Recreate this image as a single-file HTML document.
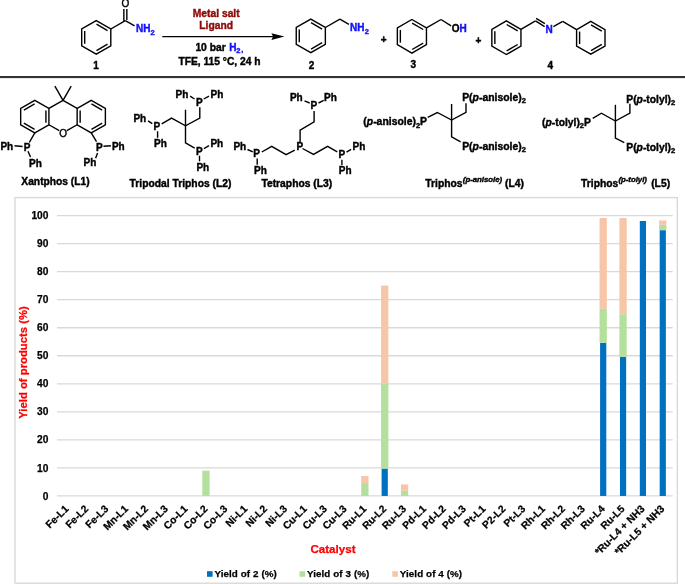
<!DOCTYPE html>
<html><head><meta charset="utf-8"><style>
html,body{margin:0;padding:0;background:#fff;}
body{width:685px;height:584px;overflow:hidden;}
svg{display:block;will-change:transform;font-family:"Liberation Sans",sans-serif;}
</style></head><body>
<svg width="685" height="584" viewBox="0 0 685 584">
<rect width="685" height="584" fill="#fff"/>
<polygon points="96.25,20.60 110.80,29.00 110.80,45.80 96.25,54.20 81.70,45.80 81.70,29.00" fill="none" stroke="#000" stroke-width="1.4" stroke-linejoin="miter"/>
<line x1="96.50" y1="24.21" x2="107.55" y2="30.59" stroke="#000" stroke-width="1.4"/>
<line x1="107.55" y1="44.21" x2="96.50" y2="50.59" stroke="#000" stroke-width="1.4"/>
<line x1="84.70" y1="43.78" x2="84.70" y2="31.02" stroke="#000" stroke-width="1.4"/>
<line x1="110.80" y1="29.00" x2="125.35" y2="20.60" stroke="#000" stroke-width="1.4"/>
<line x1="123.85" y1="21.20" x2="123.85" y2="9.00" stroke="#000" stroke-width="1.4"/>
<line x1="126.85" y1="20.00" x2="126.85" y2="9.00" stroke="#000" stroke-width="1.4"/>
<text x="125.35" y="7.40" font-size="10" text-anchor="middle" fill="#000" stroke="#000" stroke-width="0.4" font-weight="normal" >O</text>
<line x1="125.35" y1="20.60" x2="134.60" y2="25.90" stroke="#000" stroke-width="1.4"/>
<text x="136.00" y="32.00" font-size="10" text-anchor="start" fill="#1010FF" stroke="#1010FF" stroke-width="0.4" font-weight="bold" >NH</text>
<text x="150.40" y="34.80" font-size="7.5" text-anchor="start" fill="#1010FF" stroke="#1010FF" stroke-width="0.4" font-weight="bold" >2</text>
<text x="93.30" y="69.20" font-size="10" text-anchor="start" fill="#000" stroke="#000" stroke-width="0.4" font-weight="bold" >1</text>
<line x1="162.30" y1="36.60" x2="273.00" y2="36.60" stroke="#000" stroke-width="1.4"/>
<path d="M271.4,33.2 L284.4,36.6 L271.4,40 L273.1,36.6 Z" fill="#000"/>
<text x="216.20" y="17.10" font-size="10.3" text-anchor="middle" fill="#8E0B0B" stroke="#8E0B0B" stroke-width="0.4" font-weight="bold" >Metal salt</text>
<text x="216.20" y="29.40" font-size="10.3" text-anchor="middle" fill="#8E0B0B" stroke="#8E0B0B" stroke-width="0.4" font-weight="bold" >Ligand</text>
<text x="195.40" y="50.80" font-size="10.3" text-anchor="start" fill="#000" stroke="#000" stroke-width="0.4" font-weight="bold" >10 bar </text>
<text x="229.20" y="50.80" font-size="10" text-anchor="start" fill="#1010FF" stroke="#1010FF" stroke-width="0.4" font-weight="bold" >H</text>
<text x="236.30" y="53.20" font-size="7.5" text-anchor="start" fill="#1010FF" stroke="#1010FF" stroke-width="0.4" font-weight="bold" >2</text>
<text x="241.20" y="51.50" font-size="7.5" text-anchor="start" fill="#1010FF" stroke="#1010FF" stroke-width="0.4" font-weight="bold" >,</text>
<text x="219.50" y="64.60" font-size="10.25" text-anchor="middle" fill="#000" stroke="#000" stroke-width="0.4" font-weight="bold" >TFE, 115 °C, 24 h</text>
<polygon points="310.80,19.10 325.35,27.50 325.35,44.30 310.80,52.70 296.25,44.30 296.25,27.50" fill="none" stroke="#000" stroke-width="1.4" stroke-linejoin="miter"/>
<line x1="311.05" y1="22.71" x2="322.10" y2="29.09" stroke="#000" stroke-width="1.4"/>
<line x1="322.10" y1="42.71" x2="311.05" y2="49.09" stroke="#000" stroke-width="1.4"/>
<line x1="299.25" y1="42.28" x2="299.25" y2="29.52" stroke="#000" stroke-width="1.4"/>
<line x1="325.35" y1="27.50" x2="339.90" y2="19.10" stroke="#000" stroke-width="1.4"/>
<line x1="339.90" y1="19.10" x2="348.90" y2="24.40" stroke="#000" stroke-width="1.4"/>
<text x="350.00" y="31.20" font-size="10" text-anchor="start" fill="#1010FF" stroke="#1010FF" stroke-width="0.4" font-weight="bold" >NH</text>
<text x="364.80" y="33.80" font-size="7.5" text-anchor="start" fill="#1010FF" stroke="#1010FF" stroke-width="0.4" font-weight="bold" >2</text>
<text x="311.60" y="68.60" font-size="10" text-anchor="middle" fill="#000" stroke="#000" stroke-width="0.4" font-weight="bold" >2</text>
<text x="383.60" y="42.70" font-size="10" text-anchor="middle" fill="#000" stroke="#000" stroke-width="0.4" font-weight="bold" >+</text>
<polygon points="411.90,19.50 426.45,27.90 426.45,44.70 411.90,53.10 397.35,44.70 397.35,27.90" fill="none" stroke="#000" stroke-width="1.4" stroke-linejoin="miter"/>
<line x1="412.15" y1="23.11" x2="423.20" y2="29.49" stroke="#000" stroke-width="1.4"/>
<line x1="423.20" y1="43.11" x2="412.15" y2="49.49" stroke="#000" stroke-width="1.4"/>
<line x1="400.35" y1="42.68" x2="400.35" y2="29.92" stroke="#000" stroke-width="1.4"/>
<line x1="426.45" y1="27.90" x2="441.00" y2="19.50" stroke="#000" stroke-width="1.4"/>
<line x1="441.00" y1="19.50" x2="451.10" y2="25.90" stroke="#000" stroke-width="1.4"/>
<text x="451.80" y="31.70" font-size="10" text-anchor="start" fill="#000" stroke="#000" stroke-width="0.4" font-weight="bold" >O</text>
<text x="459.60" y="31.70" font-size="10" text-anchor="start" fill="#1010FF" stroke="#1010FF" stroke-width="0.4" font-weight="bold" >H</text>
<text x="413.20" y="68.20" font-size="10" text-anchor="middle" fill="#000" stroke="#000" stroke-width="0.4" font-weight="bold" >3</text>
<text x="478.50" y="43.90" font-size="10" text-anchor="middle" fill="#000" stroke="#000" stroke-width="0.4" font-weight="bold" >+</text>
<polygon points="506.40,20.90 520.95,29.30 520.95,46.10 506.40,54.50 491.85,46.10 491.85,29.30" fill="none" stroke="#000" stroke-width="1.4" stroke-linejoin="miter"/>
<line x1="506.65" y1="24.51" x2="517.70" y2="30.89" stroke="#000" stroke-width="1.4"/>
<line x1="517.70" y1="44.51" x2="506.65" y2="50.89" stroke="#000" stroke-width="1.4"/>
<line x1="494.85" y1="44.08" x2="494.85" y2="31.32" stroke="#000" stroke-width="1.4"/>
<line x1="520.95" y1="29.30" x2="535.50" y2="20.90" stroke="#000" stroke-width="1.4"/>
<line x1="535.50" y1="20.90" x2="544.60" y2="26.60" stroke="#000" stroke-width="1.4"/>
<line x1="536.10" y1="18.30" x2="544.90" y2="23.70" stroke="#000" stroke-width="1.4"/>
<text x="545.50" y="32.80" font-size="10" text-anchor="start" fill="#1010FF" stroke="#1010FF" stroke-width="0.4" font-weight="bold" >N</text>
<line x1="553.40" y1="26.60" x2="562.70" y2="21.40" stroke="#000" stroke-width="1.4"/>
<polygon points="590.80,21.40 605.00,29.60 605.00,46.00 590.80,54.20 576.60,46.00 576.60,29.60" fill="none" stroke="#000" stroke-width="1.4" stroke-linejoin="miter"/>
<line x1="591.00" y1="24.98" x2="601.80" y2="31.21" stroke="#000" stroke-width="1.4"/>
<line x1="601.80" y1="44.39" x2="591.00" y2="50.62" stroke="#000" stroke-width="1.4"/>
<line x1="579.60" y1="44.03" x2="579.60" y2="31.57" stroke="#000" stroke-width="1.4"/>
<line x1="562.70" y1="21.40" x2="576.60" y2="29.60" stroke="#000" stroke-width="1.4"/>
<text x="550.30" y="68.60" font-size="10" text-anchor="middle" fill="#000" stroke="#000" stroke-width="0.4" font-weight="bold" >4</text>
<rect x="0" y="76" width="685" height="2.1" fill="#333"/>
<polygon points="34.80,100.30 48.92,108.45 48.92,124.75 34.80,132.90 20.68,124.75 20.68,108.45" fill="none" stroke="#000" stroke-width="1.4" stroke-linejoin="miter"/>
<line x1="23.88" y1="110.07" x2="34.61" y2="103.88" stroke="#000" stroke-width="1.4"/>
<line x1="45.92" y1="110.41" x2="45.92" y2="122.79" stroke="#000" stroke-width="1.4"/>
<line x1="34.61" y1="129.32" x2="23.88" y2="123.13" stroke="#000" stroke-width="1.4"/>
<polygon points="91.26,100.30 105.38,108.45 105.38,124.75 91.26,132.90 77.15,124.75 77.15,108.45" fill="none" stroke="#000" stroke-width="1.4" stroke-linejoin="miter"/>
<line x1="80.15" y1="122.79" x2="80.15" y2="110.41" stroke="#000" stroke-width="1.4"/>
<line x1="91.46" y1="103.88" x2="102.19" y2="110.07" stroke="#000" stroke-width="1.4"/>
<line x1="102.19" y1="123.13" x2="91.46" y2="129.32" stroke="#000" stroke-width="1.4"/>
<line x1="48.92" y1="108.45" x2="63.03" y2="100.30" stroke="#000" stroke-width="1.4"/>
<line x1="63.03" y1="100.30" x2="77.15" y2="108.45" stroke="#000" stroke-width="1.4"/>
<line x1="63.03" y1="100.30" x2="54.88" y2="86.18" stroke="#000" stroke-width="1.4"/>
<line x1="63.03" y1="100.30" x2="71.18" y2="86.18" stroke="#000" stroke-width="1.4"/>
<line x1="48.92" y1="124.75" x2="59.23" y2="130.70" stroke="#000" stroke-width="1.4"/>
<line x1="77.15" y1="124.75" x2="66.83" y2="130.70" stroke="#000" stroke-width="1.4"/>
<text x="63.03" y="137.10" font-size="10" text-anchor="middle" fill="#000" stroke="#000" stroke-width="0.4" font-weight="normal" >O</text>
<line x1="34.80" y1="132.90" x2="29.30" y2="142.50" stroke="#000" stroke-width="1.4"/>
<text x="23.80" y="151.40" font-size="10" text-anchor="start" fill="#000" stroke="#000" stroke-width="0.4" font-weight="bold" >P</text>
<line x1="14.50" y1="145.80" x2="22.60" y2="146.50" stroke="#000" stroke-width="1.4"/>
<text x="0.40" y="149.90" font-size="10" text-anchor="start" fill="#000" stroke="#000" stroke-width="0.4" font-weight="bold" >Ph</text>
<line x1="28.00" y1="151.30" x2="30.50" y2="157.00" stroke="#000" stroke-width="1.4"/>
<text x="29.00" y="166.60" font-size="10" text-anchor="start" fill="#000" stroke="#000" stroke-width="0.4" font-weight="bold" >Ph</text>
<line x1="91.26" y1="132.90" x2="96.50" y2="141.60" stroke="#000" stroke-width="1.4"/>
<text x="95.90" y="151.00" font-size="10" text-anchor="start" fill="#000" stroke="#000" stroke-width="0.4" font-weight="bold" >P</text>
<line x1="103.50" y1="146.20" x2="110.90" y2="145.80" stroke="#000" stroke-width="1.4"/>
<text x="111.90" y="149.70" font-size="10" text-anchor="start" fill="#000" stroke="#000" stroke-width="0.4" font-weight="bold" >Ph</text>
<line x1="97.60" y1="152.90" x2="95.60" y2="158.30" stroke="#000" stroke-width="1.4"/>
<text x="83.60" y="166.30" font-size="10" text-anchor="start" fill="#000" stroke="#000" stroke-width="0.4" font-weight="bold" >Ph</text>
<text x="55.50" y="184.70" font-size="10.25" text-anchor="middle" fill="#000" stroke="#000" stroke-width="0.4" font-weight="bold" >Xantphos (L1)</text>
<line x1="185.50" y1="125.80" x2="185.50" y2="109.70" stroke="#000" stroke-width="1.4"/>
<polyline points="161.70,123.80 171.60,118.10 185.50,125.80 199.80,118.10 199.80,107.20" fill="none" stroke="#000" stroke-width="1.4" stroke-linejoin="miter"/>
<polyline points="185.50,125.80 185.50,142.90 194.70,148.20" fill="none" stroke="#000" stroke-width="1.4" stroke-linejoin="miter"/>
<text x="153.50" y="130.40" font-size="10" text-anchor="start" fill="#000" stroke="#000" stroke-width="0.4" font-weight="bold" >P</text>
<text x="133.40" y="122.40" font-size="10" text-anchor="start" fill="#000" stroke="#000" stroke-width="0.4" font-weight="bold" >Ph</text>
<line x1="148.00" y1="120.80" x2="152.30" y2="123.70" stroke="#000" stroke-width="1.4"/>
<line x1="157.60" y1="131.30" x2="157.60" y2="137.80" stroke="#000" stroke-width="1.4"/>
<text x="154.00" y="146.80" font-size="10" text-anchor="start" fill="#000" stroke="#000" stroke-width="0.4" font-weight="bold" >Ph</text>
<text x="196.10" y="106.00" font-size="10" text-anchor="start" fill="#000" stroke="#000" stroke-width="0.4" font-weight="bold" >P</text>
<text x="175.60" y="98.00" font-size="10" text-anchor="start" fill="#000" stroke="#000" stroke-width="0.4" font-weight="bold" >Ph</text>
<text x="210.50" y="98.00" font-size="10" text-anchor="start" fill="#000" stroke="#000" stroke-width="0.4" font-weight="bold" >Ph</text>
<line x1="190.10" y1="96.20" x2="194.50" y2="99.00" stroke="#000" stroke-width="1.4"/>
<line x1="203.70" y1="99.00" x2="209.00" y2="96.20" stroke="#000" stroke-width="1.4"/>
<text x="196.10" y="154.60" font-size="10" text-anchor="start" fill="#000" stroke="#000" stroke-width="0.4" font-weight="bold" >P</text>
<line x1="203.90" y1="148.60" x2="209.00" y2="145.60" stroke="#000" stroke-width="1.4"/>
<text x="210.40" y="146.90" font-size="10" text-anchor="start" fill="#000" stroke="#000" stroke-width="0.4" font-weight="bold" >Ph</text>
<line x1="199.50" y1="155.70" x2="199.50" y2="161.30" stroke="#000" stroke-width="1.4"/>
<text x="196.40" y="171.10" font-size="10" text-anchor="start" fill="#000" stroke="#000" stroke-width="0.4" font-weight="bold" >Ph</text>
<text x="180.50" y="186.80" font-size="10.3" text-anchor="middle" fill="#000" stroke="#000" stroke-width="0.4" font-weight="bold" >Tripodal Triphos (L2)</text>
<text x="296.60" y="150.40" font-size="10" text-anchor="start" fill="#000" stroke="#000" stroke-width="0.4" font-weight="bold" >P</text>
<polyline points="300.10,141.90 300.10,130.20 314.10,121.80 314.10,110.90" fill="none" stroke="#000" stroke-width="1.4" stroke-linejoin="miter"/>
<text x="310.40" y="109.30" font-size="10" text-anchor="start" fill="#000" stroke="#000" stroke-width="0.4" font-weight="bold" >P</text>
<text x="289.90" y="101.40" font-size="10" text-anchor="start" fill="#000" stroke="#000" stroke-width="0.4" font-weight="bold" >Ph</text>
<text x="324.10" y="101.40" font-size="10" text-anchor="start" fill="#000" stroke="#000" stroke-width="0.4" font-weight="bold" >Ph</text>
<line x1="304.50" y1="100.80" x2="309.70" y2="103.00" stroke="#000" stroke-width="1.4"/>
<line x1="318.50" y1="103.00" x2="323.70" y2="100.40" stroke="#000" stroke-width="1.4"/>
<polyline points="294.80,150.20 286.10,154.70 271.70,146.30 261.80,152.00" fill="none" stroke="#000" stroke-width="1.4" stroke-linejoin="miter"/>
<text x="253.20" y="157.40" font-size="10" text-anchor="start" fill="#000" stroke="#000" stroke-width="0.4" font-weight="bold" >P</text>
<text x="233.40" y="150.40" font-size="10" text-anchor="start" fill="#000" stroke="#000" stroke-width="0.4" font-weight="bold" >Ph</text>
<line x1="247.50" y1="149.50" x2="252.80" y2="151.90" stroke="#000" stroke-width="1.4"/>
<line x1="257.20" y1="158.60" x2="257.20" y2="164.70" stroke="#000" stroke-width="1.4"/>
<text x="254.00" y="174.10" font-size="10" text-anchor="start" fill="#000" stroke="#000" stroke-width="0.4" font-weight="bold" >Ph</text>
<polyline points="302.50,148.50 313.50,154.40 327.60,146.30 337.30,151.80" fill="none" stroke="#000" stroke-width="1.4" stroke-linejoin="miter"/>
<text x="338.50" y="158.30" font-size="10" text-anchor="start" fill="#000" stroke="#000" stroke-width="0.4" font-weight="bold" >P</text>
<line x1="346.50" y1="152.10" x2="351.10" y2="149.30" stroke="#000" stroke-width="1.4"/>
<text x="352.60" y="150.30" font-size="10" text-anchor="start" fill="#000" stroke="#000" stroke-width="0.4" font-weight="bold" >Ph</text>
<line x1="341.90" y1="159.70" x2="341.90" y2="164.90" stroke="#000" stroke-width="1.4"/>
<text x="338.80" y="174.40" font-size="10" text-anchor="start" fill="#000" stroke="#000" stroke-width="0.4" font-weight="bold" >Ph</text>
<text x="296.80" y="186.80" font-size="10.3" text-anchor="middle" fill="#000" stroke="#000" stroke-width="0.4" font-weight="bold" >Tetraphos (L3)</text>
<line x1="451.60" y1="120.00" x2="451.60" y2="104.00" stroke="#000" stroke-width="1.4"/>
<polyline points="427.70,117.30 437.30,112.50 451.60,120.00 466.00,112.40 466.00,103.20" fill="none" stroke="#000" stroke-width="1.4" stroke-linejoin="miter"/>
<polyline points="451.60,120.00 451.60,136.80 460.60,141.90" fill="none" stroke="#000" stroke-width="1.4" stroke-linejoin="miter"/>
<text x="427.00" y="125.00" font-size="10.4" text-anchor="end" fill="#000" stroke="#000" stroke-width="0.4" font-weight="bold" >(<tspan font-style="italic">p</tspan>-anisole)<tspan font-size="7.5" dy="2.8">2</tspan><tspan dy="-2.8">P</tspan></text>
<text x="462.20" y="100.60" font-size="10.4" text-anchor="start" fill="#000" stroke="#000" stroke-width="0.4" font-weight="bold" >P(<tspan font-style="italic">p</tspan>-anisole)<tspan font-size="7.5" dy="2.2">2</tspan></text>
<text x="462.20" y="149.50" font-size="10.4" text-anchor="start" fill="#000" stroke="#000" stroke-width="0.4" font-weight="bold" >P(<tspan font-style="italic">p</tspan>-anisole)<tspan font-size="7.5" dy="2.2">2</tspan></text>
<text x="425.30" y="186.70" font-size="10.3" text-anchor="start" fill="#000" stroke="#000" stroke-width="0.4" font-weight="bold" >Triphos</text>
<text x="462.80" y="182.30" font-size="7.8" text-anchor="start" fill="#000" stroke="#000" stroke-width="0.4" font-weight="bold" font-style="italic">(p-anisole)</text>
<text x="505.00" y="186.70" font-size="10.3" text-anchor="start" fill="#000" stroke="#000" stroke-width="0.4" font-weight="bold" >(L4)</text>
<line x1="615.40" y1="121.00" x2="615.40" y2="104.80" stroke="#000" stroke-width="1.4"/>
<polyline points="592.70,118.40 601.40,113.20 615.40,121.00 629.90,113.20 629.90,103.80" fill="none" stroke="#000" stroke-width="1.4" stroke-linejoin="miter"/>
<polyline points="615.40,121.00 615.40,138.10 624.30,142.60" fill="none" stroke="#000" stroke-width="1.4" stroke-linejoin="miter"/>
<text x="590.90" y="125.50" font-size="10.3" text-anchor="end" fill="#000" stroke="#000" stroke-width="0.4" font-weight="bold" >(<tspan font-style="italic">p</tspan>-tolyl)<tspan font-size="7.5" dy="2.2">2</tspan><tspan dy="-2.2">P</tspan></text>
<text x="626.30" y="102.60" font-size="10.3" text-anchor="start" fill="#000" stroke="#000" stroke-width="0.4" font-weight="bold" >P(<tspan font-style="italic">p</tspan>-tolyl)<tspan font-size="7.5" dy="2.2">2</tspan></text>
<text x="626.30" y="151.10" font-size="10.3" text-anchor="start" fill="#000" stroke="#000" stroke-width="0.4" font-weight="bold" >P(<tspan font-style="italic">p</tspan>-tolyl)<tspan font-size="7.5" dy="2.2">2</tspan></text>
<text x="581.10" y="186.80" font-size="10.3" text-anchor="start" fill="#000" stroke="#000" stroke-width="0.4" font-weight="bold" >Triphos</text>
<text x="618.40" y="182.20" font-size="7.8" text-anchor="start" fill="#000" stroke="#000" stroke-width="0.4" font-weight="bold" font-style="italic">(p-tolyl)</text>
<text x="651.20" y="186.80" font-size="10.3" text-anchor="start" fill="#000" stroke="#000" stroke-width="0.4" font-weight="bold" >(L5)</text>
<rect x="15" y="197.6" width="662.3" height="385.6" fill="none" stroke="#D9D9D9" stroke-width="1.4"/>
<line x1="57.0" y1="495.95" x2="672.7" y2="495.95" stroke="#D9D9D9" stroke-width="1.3"/>
<text x="48.40" y="499.55" font-size="10.2" text-anchor="end" fill="#000" stroke="#000" stroke-width="0.25" font-weight="bold" >0</text>
<line x1="57.0" y1="467.91" x2="672.7" y2="467.91" stroke="#D9D9D9" stroke-width="1.3"/>
<text x="48.40" y="471.51" font-size="10.2" text-anchor="end" fill="#000" stroke="#000" stroke-width="0.25" font-weight="bold" >10</text>
<line x1="57.0" y1="439.88" x2="672.7" y2="439.88" stroke="#D9D9D9" stroke-width="1.3"/>
<text x="48.40" y="443.48" font-size="10.2" text-anchor="end" fill="#000" stroke="#000" stroke-width="0.25" font-weight="bold" >20</text>
<line x1="57.0" y1="411.84" x2="672.7" y2="411.84" stroke="#D9D9D9" stroke-width="1.3"/>
<text x="48.40" y="415.44" font-size="10.2" text-anchor="end" fill="#000" stroke="#000" stroke-width="0.25" font-weight="bold" >30</text>
<line x1="57.0" y1="383.81" x2="672.7" y2="383.81" stroke="#D9D9D9" stroke-width="1.3"/>
<text x="48.40" y="387.41" font-size="10.2" text-anchor="end" fill="#000" stroke="#000" stroke-width="0.25" font-weight="bold" >40</text>
<line x1="57.0" y1="355.77" x2="672.7" y2="355.77" stroke="#D9D9D9" stroke-width="1.3"/>
<text x="48.40" y="359.38" font-size="10.2" text-anchor="end" fill="#000" stroke="#000" stroke-width="0.25" font-weight="bold" >50</text>
<line x1="57.0" y1="327.74" x2="672.7" y2="327.74" stroke="#D9D9D9" stroke-width="1.3"/>
<text x="48.40" y="331.34" font-size="10.2" text-anchor="end" fill="#000" stroke="#000" stroke-width="0.25" font-weight="bold" >60</text>
<line x1="57.0" y1="299.70" x2="672.7" y2="299.70" stroke="#D9D9D9" stroke-width="1.3"/>
<text x="48.40" y="303.31" font-size="10.2" text-anchor="end" fill="#000" stroke="#000" stroke-width="0.25" font-weight="bold" >70</text>
<line x1="57.0" y1="271.67" x2="672.7" y2="271.67" stroke="#D9D9D9" stroke-width="1.3"/>
<text x="48.40" y="275.27" font-size="10.2" text-anchor="end" fill="#000" stroke="#000" stroke-width="0.25" font-weight="bold" >80</text>
<line x1="57.0" y1="243.63" x2="672.7" y2="243.63" stroke="#D9D9D9" stroke-width="1.3"/>
<text x="48.40" y="247.23" font-size="10.2" text-anchor="end" fill="#000" stroke="#000" stroke-width="0.25" font-weight="bold" >90</text>
<line x1="57.0" y1="215.60" x2="672.7" y2="215.60" stroke="#D9D9D9" stroke-width="1.3"/>
<text x="48.40" y="219.20" font-size="10.2" text-anchor="end" fill="#000" stroke="#000" stroke-width="0.25" font-weight="bold" >100</text>
<rect x="202.31" y="470.72" width="7.3" height="25.23" fill="#B3E19D"/>
<rect x="361.20" y="483.05" width="7.3" height="12.90" fill="#B3E19D"/>
<rect x="361.20" y="476.05" width="7.3" height="7.01" fill="#F6C6A9"/>
<rect x="381.61" y="468.59" width="6.2" height="27.36" fill="#0070C0"/>
<rect x="381.06" y="383.92" width="7.3" height="84.67" fill="#B3E19D"/>
<rect x="381.06" y="285.52" width="7.3" height="98.40" fill="#F6C6A9"/>
<rect x="400.92" y="490.79" width="7.3" height="5.16" fill="#B3E19D"/>
<rect x="400.92" y="484.46" width="7.3" height="6.34" fill="#F6C6A9"/>
<rect x="600.09" y="342.71" width="6.2" height="153.24" fill="#0070C0"/>
<rect x="599.54" y="308.82" width="7.3" height="33.89" fill="#B3E19D"/>
<rect x="599.54" y="218.01" width="7.3" height="90.81" fill="#F6C6A9"/>
<rect x="619.95" y="356.81" width="6.2" height="139.14" fill="#0070C0"/>
<rect x="619.40" y="314.20" width="7.3" height="42.61" fill="#B3E19D"/>
<rect x="619.40" y="218.01" width="7.3" height="96.19" fill="#F6C6A9"/>
<rect x="639.81" y="220.98" width="6.2" height="274.97" fill="#0070C0"/>
<rect x="659.67" y="230.18" width="6.2" height="265.77" fill="#0070C0"/>
<rect x="659.12" y="224.85" width="7.3" height="5.33" fill="#B3E19D"/>
<rect x="659.12" y="220.37" width="7.3" height="4.49" fill="#F6C6A9"/>
<text transform="translate(69.23,509.40) rotate(-45)" font-size="10.3" font-weight="bold" text-anchor="end" stroke="#000" stroke-width="0.25">Fe-L1</text>
<text transform="translate(89.09,509.40) rotate(-45)" font-size="10.3" font-weight="bold" text-anchor="end" stroke="#000" stroke-width="0.25">Fe-L2</text>
<text transform="translate(108.95,509.40) rotate(-45)" font-size="10.3" font-weight="bold" text-anchor="end" stroke="#000" stroke-width="0.25">Fe-L3</text>
<text transform="translate(128.81,509.40) rotate(-45)" font-size="10.3" font-weight="bold" text-anchor="end" stroke="#000" stroke-width="0.25">Mn-L1</text>
<text transform="translate(148.68,509.40) rotate(-45)" font-size="10.3" font-weight="bold" text-anchor="end" stroke="#000" stroke-width="0.25">Mn-L2</text>
<text transform="translate(168.54,509.40) rotate(-45)" font-size="10.3" font-weight="bold" text-anchor="end" stroke="#000" stroke-width="0.25">Mn-L3</text>
<text transform="translate(188.40,509.40) rotate(-45)" font-size="10.3" font-weight="bold" text-anchor="end" stroke="#000" stroke-width="0.25">Co-L1</text>
<text transform="translate(208.26,509.40) rotate(-45)" font-size="10.3" font-weight="bold" text-anchor="end" stroke="#000" stroke-width="0.25">Co-L2</text>
<text transform="translate(228.12,509.40) rotate(-45)" font-size="10.3" font-weight="bold" text-anchor="end" stroke="#000" stroke-width="0.25">Co-L3</text>
<text transform="translate(247.98,509.40) rotate(-45)" font-size="10.3" font-weight="bold" text-anchor="end" stroke="#000" stroke-width="0.25">Ni-L1</text>
<text transform="translate(267.84,509.40) rotate(-45)" font-size="10.3" font-weight="bold" text-anchor="end" stroke="#000" stroke-width="0.25">Ni-L2</text>
<text transform="translate(287.70,509.40) rotate(-45)" font-size="10.3" font-weight="bold" text-anchor="end" stroke="#000" stroke-width="0.25">Ni-L3</text>
<text transform="translate(307.57,509.40) rotate(-45)" font-size="10.3" font-weight="bold" text-anchor="end" stroke="#000" stroke-width="0.25">Cu-L1</text>
<text transform="translate(327.43,509.40) rotate(-45)" font-size="10.3" font-weight="bold" text-anchor="end" stroke="#000" stroke-width="0.25">Cu-L3</text>
<text transform="translate(347.29,509.40) rotate(-45)" font-size="10.3" font-weight="bold" text-anchor="end" stroke="#000" stroke-width="0.25">Cu-L3</text>
<text transform="translate(367.15,509.40) rotate(-45)" font-size="10.3" font-weight="bold" text-anchor="end" stroke="#000" stroke-width="0.25">Ru-L1</text>
<text transform="translate(387.01,509.40) rotate(-45)" font-size="10.3" font-weight="bold" text-anchor="end" stroke="#000" stroke-width="0.25">Ru-L2</text>
<text transform="translate(406.87,509.40) rotate(-45)" font-size="10.3" font-weight="bold" text-anchor="end" stroke="#000" stroke-width="0.25">Ru-L3</text>
<text transform="translate(426.73,509.40) rotate(-45)" font-size="10.3" font-weight="bold" text-anchor="end" stroke="#000" stroke-width="0.25">Pd-L1</text>
<text transform="translate(446.60,509.40) rotate(-45)" font-size="10.3" font-weight="bold" text-anchor="end" stroke="#000" stroke-width="0.25">Pd-L2</text>
<text transform="translate(466.46,509.40) rotate(-45)" font-size="10.3" font-weight="bold" text-anchor="end" stroke="#000" stroke-width="0.25">Pd-L3</text>
<text transform="translate(486.32,509.40) rotate(-45)" font-size="10.3" font-weight="bold" text-anchor="end" stroke="#000" stroke-width="0.25">Pt-L1</text>
<text transform="translate(506.18,509.40) rotate(-45)" font-size="10.3" font-weight="bold" text-anchor="end" stroke="#000" stroke-width="0.25">P2-L2</text>
<text transform="translate(526.04,509.40) rotate(-45)" font-size="10.3" font-weight="bold" text-anchor="end" stroke="#000" stroke-width="0.25">Pt-L3</text>
<text transform="translate(545.90,509.40) rotate(-45)" font-size="10.3" font-weight="bold" text-anchor="end" stroke="#000" stroke-width="0.25">Rh-L1</text>
<text transform="translate(565.76,509.40) rotate(-45)" font-size="10.3" font-weight="bold" text-anchor="end" stroke="#000" stroke-width="0.25">Rh-L2</text>
<text transform="translate(585.62,509.40) rotate(-45)" font-size="10.3" font-weight="bold" text-anchor="end" stroke="#000" stroke-width="0.25">Rh-L3</text>
<text transform="translate(605.49,509.40) rotate(-45)" font-size="10.3" font-weight="bold" text-anchor="end" stroke="#000" stroke-width="0.25">Ru-L4</text>
<text transform="translate(625.35,509.40) rotate(-45)" font-size="10.3" font-weight="bold" text-anchor="end" stroke="#000" stroke-width="0.25">Ru-L5</text>
<text transform="translate(645.21,509.40) rotate(-45)" font-size="10.3" font-weight="bold" text-anchor="end" stroke="#000" stroke-width="0.25">*Ru-L4 + NH3</text>
<text transform="translate(665.07,509.40) rotate(-45)" font-size="10.3" font-weight="bold" text-anchor="end" stroke="#000" stroke-width="0.25">*Ru-L5 + NH3</text>
<text x="333.00" y="553.40" font-size="11.6" text-anchor="middle" fill="#FF0000" stroke="#FF0000" stroke-width="0.25" font-weight="bold" >Catalyst</text>
<text transform="translate(27.0,362.5) rotate(-90)" font-size="11.3" font-weight="bold" text-anchor="middle" fill="#FF0000" stroke="#FF0000" stroke-width="0.25">Yield of products (%)</text>
<rect x="207" y="571.2" width="5.6" height="5.6" fill="#0070C0"/>
<text x="214.40" y="576.80" font-size="9.8" text-anchor="start" fill="#000" stroke="#000" stroke-width="0.25" font-weight="bold" letter-spacing="0.1">Yield of 2 (%)</text>
<rect x="299.5" y="571.2" width="5.6" height="5.6" fill="#B3E19D"/>
<text x="306.90" y="576.80" font-size="9.8" text-anchor="start" fill="#000" stroke="#000" stroke-width="0.25" font-weight="bold" letter-spacing="0.1">Yield of 3 (%)</text>
<rect x="392.3" y="571.2" width="5.6" height="5.6" fill="#F6C6A9"/>
<text x="399.70" y="576.80" font-size="9.8" text-anchor="start" fill="#000" stroke="#000" stroke-width="0.25" font-weight="bold" letter-spacing="0.1">Yield of 4 (%)</text>
</svg>
</body></html>
